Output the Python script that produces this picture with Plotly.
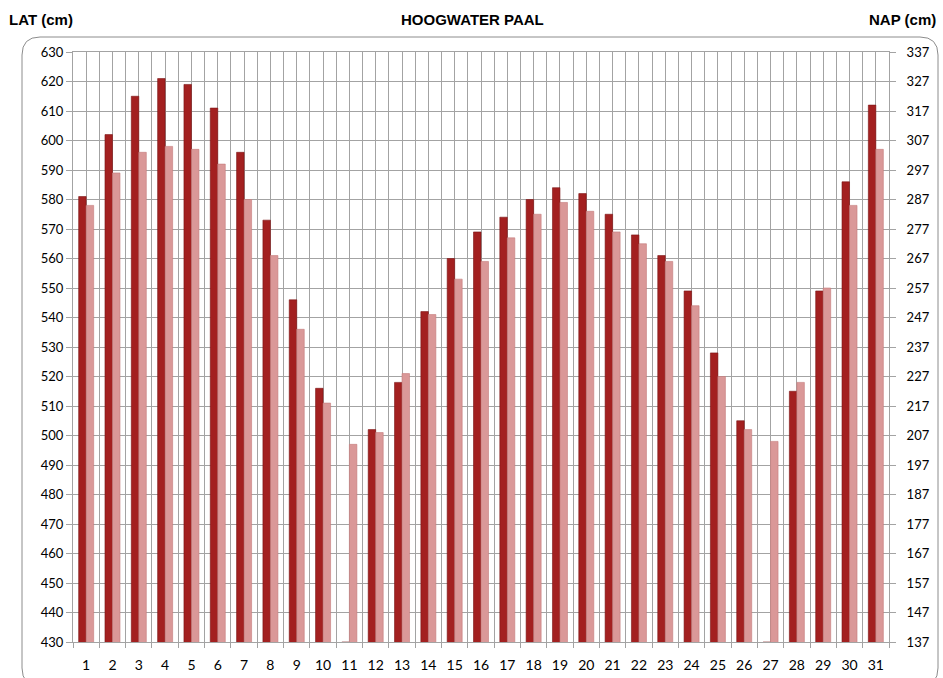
import plotly.graph_objects as go

# Days of the month
days = list(range(1, 32))

# High-water levels in cm above LAT (two series per day)
hw_dark = [581, 602, 615, 621, 619, 611, 596, 573, 546, 516,
           430, 502, 518, 542, 560, 569, 574, 580, 584, 582,
           575, 568, 561, 549, 528, 505, 430, 515, 549, 586, 612]
hw_light = [578, 589, 596, 598, 597, 592, 580, 561, 536, 511,
            497, 501, 521, 541, 553, 559, 567, 575, 579, 576,
            569, 565, 559, 544, 520, 502, 498, 518, 550, 578, 597]

# Axis ranges: LAT on the left, NAP on the right (NAP = LAT - 293)
lat_range = [430, 630]
nap_offset = 293
nap_range = [lat_range[0] - nap_offset, lat_range[1] - nap_offset]

W, H = 943, 678
L, R, T, B = 73, 54, 52, 36
plot_w = W - L - R
plot_h = H - T - B

grid_col = "#a3a3a3"
tick_font = dict(family="Lato, Carlito, Arial", size=13, color="#000000")

fig = go.Figure()
fig.add_trace(go.Bar(
    x=days, y=hw_dark, base=0, name="HW 1",
    marker=dict(color="#a32020", line=dict(color="#7a1414", width=0.6)),
))
fig.add_trace(go.Bar(
    x=days, y=hw_light, base=0, name="HW 2",
    marker=dict(color="#da9898", line=dict(color="#c47a7a", width=0.6)),
))
# invisible trace that anchors the NAP axis
fig.add_trace(go.Scatter(x=[days[0]], y=[nap_range[0]], yaxis="y2",
                         mode="markers", marker=dict(opacity=0),
                         showlegend=False, hoverinfo="skip"))


def px_x(px):
    return (px - L) / plot_w


def px_y(py):
    return (H - B - py) / plot_h


# rounded frame around the chart
x0, x1, y0, y1, r = 22, 938, 37, 686, 18
path = (
    f"M {px_x(x0)},{px_y(y0 + r)} "
    f"Q {px_x(x0)},{px_y(y0)} {px_x(x0 + r)},{px_y(y0)} "
    f"L {px_x(x1 - r)},{px_y(y0)} "
    f"Q {px_x(x1)},{px_y(y0)} {px_x(x1)},{px_y(y0 + r)} "
    f"L {px_x(x1)},{px_y(y1 - r)} "
    f"Q {px_x(x1)},{px_y(y1)} {px_x(x1 - r)},{px_y(y1)} "
    f"L {px_x(x0 + r)},{px_y(y1)} "
    f"Q {px_x(x0)},{px_y(y1)} {px_x(x0)},{px_y(y1 - r)} Z"
)
fig.add_shape(type="path", path=path, xref="paper", yref="paper",
              line=dict(color="#8c8c8c", width=1), layer="below")

title_font = dict(family="Liberation Sans Narrow, Liberation Sans, Arial", size=15, color="#000000")
fig.add_annotation(text="<b>LAT (cm)</b>", x=px_x(7), y=px_y(20), xref="paper", yref="paper",
                   xanchor="left", yanchor="middle", showarrow=False, font=title_font)
fig.add_annotation(text="<b>HOOGWATER PAAL</b>", x=px_x(472), y=px_y(20), xref="paper", yref="paper",
                   xanchor="center", yanchor="middle", showarrow=False, font=title_font)
fig.add_annotation(text="<b>NAP (cm)</b>", x=px_x(938), y=px_y(20), xref="paper", yref="paper",
                   xanchor="right", yanchor="middle", showarrow=False, font=title_font)

fig.update_layout(
    width=W, height=H,
    margin=dict(l=L, r=R, t=T, b=B),
    paper_bgcolor="white", plot_bgcolor="white",
    barmode="group", bargap=0.43, bargroupgap=0,
    showlegend=False,
    xaxis=dict(
        range=[0.5, 31.5], tickmode="linear", tick0=1, dtick=1,
        showgrid=True, gridcolor=grid_col, gridwidth=1,
        ticks="", tickfont=dict(tick_font, size=14), ticklabelstandoff=10,
        showline=True, linecolor=grid_col, mirror=True,
        minor=dict(tick0=0.5, dtick=1, showgrid=True, gridcolor=grid_col,
                   ticks="outside", ticklen=5, tickcolor=grid_col),
        zeroline=False, automargin=False,
    ),
    yaxis=dict(
        range=lat_range, tickmode="linear", tick0=lat_range[0], dtick=10,
        showgrid=True, gridcolor=grid_col, gridwidth=1,
        ticks="outside", ticklen=6, tickcolor=grid_col,
        tickfont=tick_font, showline=True, linecolor=grid_col,
        zeroline=False, automargin=False,
    ),
    yaxis2=dict(
        range=nap_range, tickmode="linear", tick0=nap_range[0], dtick=10,
        overlaying="y", side="right", showgrid=False,
        ticks="outside", ticklen=6, tickcolor=grid_col,
        tickfont=tick_font, ticklabelstandoff=8,
        showline=True, linecolor=grid_col,
        zeroline=False, automargin=False,
    ),
)

fig.write_html("out.html")
